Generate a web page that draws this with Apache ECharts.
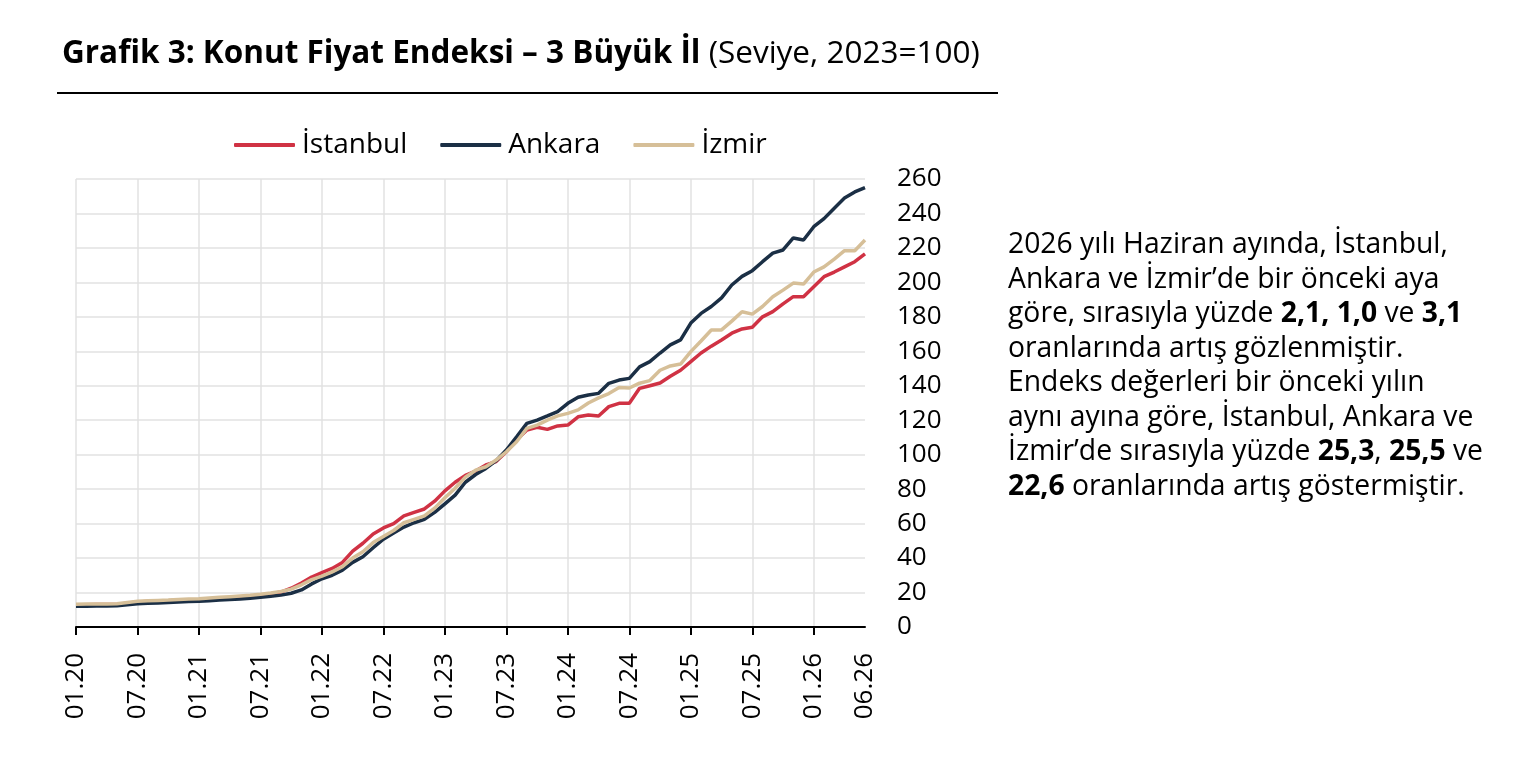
<!DOCTYPE html>
<html>
<head>
<meta charset="utf-8">
<script src="https://cdn.jsdelivr.net/npm/echarts@6/dist/echarts.min.js"></script>
<style>
html,body{margin:0;padding:0;background:#fff;}
#chart{width:1527px;height:777px;}
</style>
</head>
<body>
<div id="chart"></div>
<script>
// aylar: 01.20 - 06.26
var months = [];
for (var y = 20; y <= 26; y++) {
  for (var m = 1; m <= 12; m++) {
    if (y == 26 && m > 6) break;
    months.push((m < 10 ? '0' + m : '' + m) + '.' + y);
  }
}

var istanbul = [
  12.8,12.9,13.0,13.0,13.1,13.8,14.5,14.8,15.0,15.2,15.5,15.8,
  16.0,16.3,16.6,17.0,17.4,17.8,18.4,19.2,20.3,22.5,25.5,29.0,
  31.5,34.0,37.5,44.0,48.6,54.0,57.5,60.0,64.5,66.5,68.5,73.0,
  79.0,84.0,88.0,90.5,94.0,96.0,101.7,108.5,114.3,115.9,114.7,116.7,
  117.2,122.0,123.0,122.5,127.9,129.8,129.8,138.5,140.0,141.6,145.5,149.0,
  154.0,159.0,163.0,166.6,170.5,173.0,174.0,180.0,183.0,187.5,191.7,191.7,
  197.5,203.3,206.0,209.0,212.0,216.5
];
var ankara = [
  12.0,12.1,12.2,12.2,12.3,12.9,13.5,13.8,14.0,14.2,14.5,14.8,
  15.0,15.3,15.6,16.0,16.3,16.7,17.2,17.8,18.5,19.6,21.5,25.0,
  28.0,30.0,33.0,37.5,40.8,46.0,51.0,54.5,58.0,60.5,62.5,66.5,
  71.5,76.5,84.0,88.5,92.0,96.5,102.7,110.4,118.2,120.1,122.5,125.0,
  129.8,133.3,134.6,135.6,141.4,143.3,144.3,151.0,154.0,159.0,163.7,166.6,
  176.4,182.0,186.0,191.0,198.5,203.5,206.8,212.0,217.0,218.8,225.8,224.6,
  232.3,237.0,243.0,249.0,252.5,255.0
];
var izmir = [
  13.2,13.3,13.4,13.4,13.5,14.2,14.9,15.2,15.4,15.6,15.9,16.2,
  16.4,16.8,17.2,17.6,18.0,18.4,19.0,19.7,20.6,22.0,24.5,27.5,
  29.5,32.0,35.0,40.0,43.7,49.0,52.5,56.0,60.5,62.5,64.5,69.0,
  75.0,80.5,87.0,91.0,93.0,96.9,101.7,107.5,115.3,117.2,120.1,122.5,
  124.0,126.0,130.0,133.0,135.5,139.0,138.7,141.5,143.0,149.0,151.5,152.6,
  159.8,166.0,172.4,172.4,177.5,183.0,181.6,186.0,191.7,195.5,199.6,199.0,
  206.0,209.0,213.5,218.4,218.4,224.6
];

var seriesNames = ['İstanbul', 'Ankara', 'İzmir'];
var colors = ['#D03244', '#1B2F45', '#D6BF98'];

var note = [
  '2026 yılı Haziran ayında, İstanbul,',
  'Ankara ve İzmir’de bir önceki aya',
  'göre, sırasıyla yüzde {b|2,1, 1,0} ve {b|3,1}',
  'oranlarında artış gözlenmiştir.',
  'Endeks değerleri bir önceki yılın',
  'aynı ayına göre, İstanbul, Ankara ve',
  'İzmir’de sırasıyla yüzde {b|25,3}, {b|25,5} ve',
  '{b|22,6} oranlarında artış göstermiştir.'
];

function every6(i) { return i % 6 === 0; }
function labelAt(i) { return i % 6 === 0 || i === months.length - 1; }

var chart = echarts.init(document.getElementById('chart'));
var seriesData = [istanbul, ankara, izmir];
var series = [];
for (var s = 0; s < 3; s++) {
  series.push({
    name: seriesNames[s],
    type: 'line',
    data: seriesData[s],
    symbol: 'none',
    color: colors[s],
    lineStyle: { width: 3.5, color: colors[s] }
  });
}

chart.setOption({
  animation: false,
  textStyle: { fontFamily: 'Open Sans' },
  legend: {
    left: 229,
    top: 126,
    icon: 'roundRect',
    itemWidth: 61,
    itemHeight: 4,
    itemGap: 33,
    textStyle: { fontSize: 28, color: '#000', fontFamily: 'Open Sans', padding: [0, 0, 0, 2] }
  },
  grid: { left: 76, right: 662, top: 179, bottom: 150 },
  xAxis: {
    type: 'category',
    boundaryGap: false,
    data: months,
    axisLine: { lineStyle: { color: '#000', width: 2 } },
    axisTick: { interval: every6, length: 8, lineStyle: { color: '#000', width: 2 } },
    axisLabel: { interval: labelAt, rotate: 90, fontSize: 26, color: '#000', margin: 26 },
    splitLine: { show: true, interval: every6, lineStyle: { color: '#e2e2e2', width: 1.5 } }
  },
  yAxis: {
    type: 'value',
    position: 'right',
    min: 0,
    max: 260,
    interval: 20,
    axisLine: { show: false },
    axisTick: { show: false },
    axisLabel: { fontSize: 26, color: '#000', margin: 32 },
    splitLine: { lineStyle: { color: '#e2e2e2', width: 1.5 } }
  },
  graphic: [
    {
      type: 'text',
      left: 62,
      top: 38,
      style: {
        text: '{b|Grafik 3: Konut Fiyat Endeksi – 3 Büyük İl} {n|(Seviye, 2023=100)}',
        fontSize: 31.5,
        fontFamily: 'Open Sans',
        fill: '#000',
        rich: {
          b: { fontSize: 31.5, fontWeight: 'bold', fontFamily: 'Open Sans', fill: '#000' },
          n: { fontSize: 31.5, fontFamily: 'Open Sans', fill: '#000' }
        }
      }
    },
    {
      type: 'line',
      shape: { x1: 57, y1: 93, x2: 998, y2: 93 },
      style: { stroke: '#000', lineWidth: 2 }
    },
    {
      type: 'text',
      left: 1008,
      top: 228,
      style: {
        text: note.join('\n'),
        fontSize: 28.3,
        fontFamily: 'Open Sans',
        lineHeight: 34.5,
        fill: '#000',
        rich: {
          b: { fontSize: 28.3, fontWeight: 'bold', fontFamily: 'Open Sans', lineHeight: 34.5, fill: '#000' }
        }
      }
    }
  ],
  series: series
});
</script>
</body>
</html>
